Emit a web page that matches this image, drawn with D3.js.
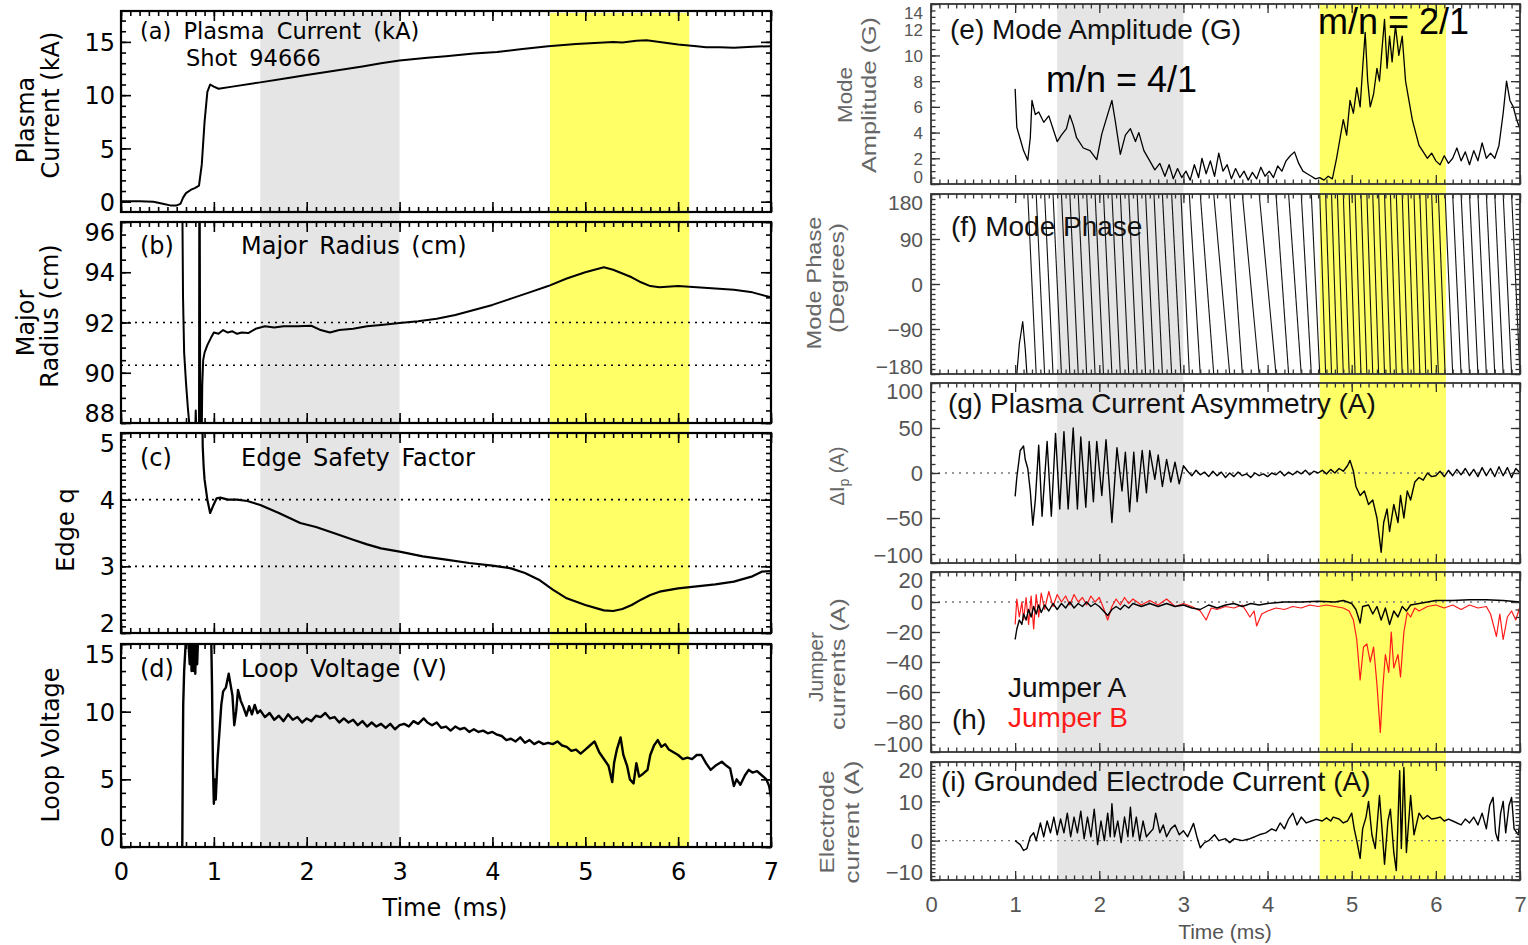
<!DOCTYPE html>
<html><head><meta charset="utf-8">
<script src="https://cdn.jsdelivr.net/npm/d3@7"></script>
<style>body{margin:0;background:#fff}</style></head>
<body><svg id="c" width="1528" height="945" xmlns="http://www.w3.org/2000/svg"></svg>
<script>
// ---------------- DATA (time in ms) ----------------
const timeTicks = [0,1,2,3,4,5,6,7];
const grayBand = [1.5, 3.0];
const yellowBand = [4.62, 6.12];

const plasmaCurrent = [[0,0.05],[0.2,0.05],[0.35,0.0],[0.45,-0.2],[0.53,-0.35],[0.6,-0.35],[0.64,-0.2],[0.67,0.4],[0.7,0.8],[0.75,1.1],[0.8,1.3],[0.84,1.5],[0.87,3.5],[0.9,7.5],[0.93,10.3],[0.96,11.0],[1.0,10.8],[1.05,10.6],[1.2,10.8],[1.5,11.2],[1.8,11.6],[2.0,11.9],[2.3,12.3],[2.6,12.7],[2.8,13.0],[3.0,13.25],[3.3,13.5],[3.5,13.65],[3.8,13.9],[4.05,14.05],[4.3,14.3],[4.6,14.6],[4.9,14.8],[5.1,14.9],[5.3,15.0],[5.4,14.95],[5.55,15.1],[5.66,15.15],[5.8,15.0],[6.0,14.75],[6.2,14.6],[6.3,14.5],[6.45,14.5],[6.6,14.45],[6.8,14.55],[7.0,14.6]];

const majorRadius = [[0.66,97],[0.668,93],[0.68,90.8],[0.70,89.6],[0.72,88.6],[0.74,87.8],[0.8,87.8],[0.805,88.5],[0.81,87.8],[0.84,87.8],[0.843,97],[0.848,97],[0.852,90.5],[0.856,87.7],[0.87,87.7],[0.875,89.5],[0.885,90.5],[0.9,90.8],[0.93,91.1],[0.97,91.4],[1.0,91.6],[1.05,91.55],[1.1,91.7],[1.15,91.6],[1.2,91.65],[1.25,91.55],[1.3,91.6],[1.37,91.58],[1.45,91.75],[1.55,91.85],[1.65,91.8],[1.75,91.85],[1.9,91.85],[2.05,91.87],[2.15,91.7],[2.25,91.6],[2.35,91.7],[2.5,91.75],[2.65,91.85],[2.8,91.9],[3.0,91.98],[3.2,92.05],[3.4,92.15],[3.6,92.3],[3.8,92.5],[4.0,92.7],[4.2,92.95],[4.4,93.2],[4.6,93.45],[4.8,93.75],[5.0,94.0],[5.1,94.1],[5.2,94.2],[5.3,94.1],[5.4,93.95],[5.5,93.8],[5.6,93.6],[5.7,93.45],[5.8,93.4],[6.0,93.45],[6.2,93.4],[6.4,93.35],[6.6,93.3],[6.8,93.2],[7.0,93.0]];
const radiusRefs = [92, 90.3];

const edgeQ = [[0.875,5.5],[0.88,4.8],[0.89,4.5],[0.9,4.3],[0.93,4.0],[0.96,3.8],[0.99,3.9],[1.03,4.02],[1.07,4.03],[1.15,4.0],[1.25,4.0],[1.36,3.98],[1.5,3.92],[1.7,3.8],[1.93,3.65],[2.1,3.59],[2.29,3.5],[2.5,3.4],[2.65,3.33],[2.8,3.27],[3.0,3.22],[3.25,3.15],[3.5,3.1],[3.75,3.05],[4.0,3.01],[4.2,2.97],[4.35,2.9],[4.5,2.8],[4.65,2.65],[4.8,2.52],[5.0,2.42],[5.2,2.34],[5.3,2.33],[5.4,2.36],[5.5,2.42],[5.6,2.5],[5.7,2.57],[5.8,2.62],[6.0,2.67],[6.2,2.7],[6.4,2.73],[6.6,2.77],[6.8,2.85],[6.9,2.92],[7.0,2.93]];
const qRefs = [4, 3];

const loopVoltage = [[0.66,0],[0.665,6],[0.67,10.5],[0.68,13],[0.7,15.5],[0.72,16],[0.74,13.5],[0.75,16],[0.76,13],[0.77,16],[0.78,13],[0.79,16],[0.8,12.8],[0.81,16],[0.82,13.5],[0.83,15.5],[0.84,16],[0.97,16],[0.98,12],[0.99,6],[1.0,3.2],[1.01,5],[1.02,3.5],[1.04,6.5],[1.06,8.5],[1.08,10.5],[1.1,11.5],[1.13,11.8],[1.16,12.8],[1.18,12],[1.2,11.2],[1.22,9.0],[1.24,10],[1.26,11.6],[1.29,10.8],[1.32,10.3],[1.35,9.7],[1.38,10.4],[1.41,9.8],[1.44,10.5],[1.47,9.9],[1.5,10.1],[1.55,9.6],[1.6,9.9],[1.65,9.4],[1.7,9.7],[1.75,9.3],[1.8,9.8],[1.85,9.4],[1.9,9.6],[1.95,9.2],[2.0,9.5],[2.05,9.3],[2.1,9.7],[2.15,9.6],[2.2,9.9],[2.25,9.5],[2.3,9.6],[2.35,9.2],[2.4,9.5],[2.45,9.2],[2.5,9.4],[2.55,9.0],[2.6,9.3],[2.65,8.9],[2.7,9.2],[2.75,8.9],[2.8,9.1],[2.85,8.8],[2.9,9.1],[2.95,8.7],[3.0,9.0],[3.05,9.1],[3.1,8.9],[3.15,9.3],[3.2,9.1],[3.26,9.5],[3.3,9.2],[3.35,9.0],[3.4,9.2],[3.45,8.8],[3.5,8.9],[3.55,8.6],[3.6,8.9],[3.65,8.7],[3.7,8.8],[3.75,8.5],[3.8,8.7],[3.85,8.5],[3.9,8.6],[3.95,8.4],[4.0,8.5],[4.05,8.3],[4.1,8.2],[4.15,7.9],[4.2,8.0],[4.25,7.8],[4.3,8.1],[4.35,7.7],[4.4,7.9],[4.45,7.6],[4.5,7.8],[4.55,7.6],[4.6,7.7],[4.65,7.6],[4.7,7.8],[4.75,7.5],[4.8,7.4],[4.85,7.1],[4.9,7.2],[4.95,6.9],[5.0,7.2],[5.05,7.5],[5.1,7.8],[5.15,7.0],[5.2,6.5],[5.25,6.0],[5.29,4.8],[5.31,6.2],[5.34,7.2],[5.38,8.1],[5.41,6.8],[5.45,6.0],[5.48,5.0],[5.52,4.7],[5.55,6.2],[5.58,5.2],[5.62,5.4],[5.67,5.7],[5.7,6.8],[5.74,7.5],[5.78,7.9],[5.82,7.4],[5.86,7.6],[5.9,7.2],[5.95,7.0],[6.0,6.8],[6.05,6.5],[6.1,6.6],[6.15,6.5],[6.2,6.8],[6.25,6.8],[6.3,6.2],[6.35,5.7],[6.4,6.0],[6.47,6.3],[6.52,6.0],[6.56,5.8],[6.6,4.5],[6.63,5.0],[6.67,4.6],[6.72,5.3],[6.76,5.7],[6.8,5.5],[6.85,5.6],[6.9,5.3],[6.95,5.0],[6.98,4.5],[7.0,3.7]];

const modeAmp = [[1.0,7.4],[1.02,4.4],[1.06,3.5],[1.10,2.6],[1.15,1.85],[1.18,3.6],[1.2,6.5],[1.24,5.4],[1.28,5.6],[1.34,4.8],[1.40,5.3],[1.46,4.1],[1.5,3.3],[1.55,3.8],[1.61,4.3],[1.65,5.35],[1.69,4.6],[1.73,3.6],[1.81,2.8],[1.89,2.6],[1.97,1.9],[2.03,3.9],[2.09,5.2],[2.15,6.5],[2.19,4.9],[2.25,2.3],[2.31,3.8],[2.37,4.3],[2.43,3.3],[2.47,4.0],[2.53,2.6],[2.6,1.8],[2.66,1.1],[2.72,1.6],[2.78,0.6],[2.83,1.5],[2.88,0.4],[2.93,1.2],[2.98,0.5],[3.03,1.0],[3.08,0.3],[3.13,1.5],[3.18,0.5],[3.22,2.0],[3.27,0.8],[3.32,1.8],[3.37,0.6],[3.42,2.4],[3.47,1.0],[3.52,1.5],[3.57,0.4],[3.62,1.2],[3.67,0.5],[3.72,1.0],[3.77,0.3],[3.82,0.9],[3.87,0.4],[3.92,1.3],[3.97,0.6],[4.02,1.0],[4.07,0.5],[4.12,1.4],[4.17,1.0],[4.22,1.8],[4.27,2.2],[4.32,2.5],[4.37,1.6],[4.42,1.0],[4.47,0.8],[4.52,0.6],[4.57,0.4],[4.62,0.5],[4.67,0.3],[4.72,0.6],[4.77,0.4],[4.82,2.0],[4.86,3.5],[4.9,5.0],[4.94,3.8],[4.98,6.5],[5.02,5.5],[5.06,7.5],[5.1,6.0],[5.13,9.0],[5.16,11.8],[5.19,8.0],[5.22,6.0],[5.26,7.0],[5.3,9.0],[5.33,8.0],[5.36,10.5],[5.39,12.8],[5.42,9.0],[5.45,11.5],[5.48,9.5],[5.52,12.3],[5.56,10.0],[5.6,11.5],[5.64,8.0],[5.68,6.5],[5.72,5.0],[5.76,4.0],[5.8,3.0],[5.85,2.5],[5.9,2.0],[5.95,2.4],[6.0,1.8],[6.05,1.5],[6.1,2.2],[6.15,1.6],[6.2,2.0],[6.25,2.8],[6.3,1.8],[6.35,2.5],[6.4,1.5],[6.45,2.6],[6.5,1.8],[6.55,3.2],[6.6,2.0],[6.65,2.4],[6.7,2.0],[6.75,3.0],[6.8,5.5],[6.84,8.0],[6.88,6.5],[6.92,6.0],[6.96,5.0],[7.0,4.3]];

// times at which the wrapped phase restarts at +180 deg
const phaseWraps = [1.15,1.25,1.35,1.45,1.55,1.65,1.75,1.85,1.95,2.05,2.15,2.25,2.35,2.45,2.55,2.65,2.75,2.86,2.97,3.07,3.2,3.36,3.55,3.7,3.9,4.1,4.25,4.4,4.52,4.62,4.69,4.76,4.83,4.9,4.97,5.04,5.11,5.18,5.25,5.32,5.39,5.46,5.53,5.6,5.67,5.74,5.81,5.88,5.95,6.03,6.11,6.2,6.3,6.4,6.5,6.6,6.7,6.8,6.9,7.0];
const phaseStart = [[1.02,-180],[1.05,-120],[1.09,-75],[1.12,-130],[1.14,-180]];

const asymmetry = [[1.0,-26],[1.02,-5],[1.06,25],[1.10,30],[1.12,15],[1.15,5],[1.18,-20],[1.21,-58],[1.24,-30],[1.28,31],[1.32,-48],[1.38,35],[1.43,-48],[1.48,44],[1.53,-40],[1.58,46],[1.63,-40],[1.69,50],[1.74,-40],[1.78,40],[1.84,-38],[1.88,35],[1.93,-32],[1.97,35],[2.03,-25],[2.08,37],[2.15,-55],[2.21,28],[2.27,-20],[2.31,23],[2.36,-43],[2.41,23],[2.45,-32],[2.51,25],[2.56,-22],[2.60,25],[2.66,-7],[2.7,20],[2.75,-15],[2.8,15],[2.85,-10],[2.9,12],[2.95,-12],[3.0,8],[3.05,2],[3.1,-3],[3.15,3],[3.2,-2],[3.25,1],[3.3,-4],[3.35,2],[3.4,-3],[3.45,1],[3.5,-5],[3.55,0],[3.6,-4],[3.65,1],[3.7,-3],[3.75,-1],[3.8,-5],[3.85,0],[3.9,-3],[3.95,-1],[4.0,-4],[4.05,0],[4.1,-2],[4.15,2],[4.2,-3],[4.25,1],[4.3,-2],[4.35,2],[4.4,-1],[4.45,3],[4.5,-2],[4.55,2],[4.6,0],[4.65,3],[4.7,-1],[4.75,4],[4.8,0],[4.85,5],[4.9,2],[4.95,8],[4.98,14],[5.02,2],[5.05,-15],[5.1,-25],[5.15,-20],[5.2,-35],[5.25,-30],[5.3,-50],[5.35,-88],[5.38,-55],[5.42,-40],[5.45,-65],[5.5,-35],[5.55,-55],[5.58,-25],[5.62,-50],[5.66,-20],[5.7,-30],[5.75,-10],[5.8,-5],[5.85,-8],[5.9,0],[5.95,-4],[6.0,-3],[6.05,2],[6.1,-4],[6.15,3],[6.2,-3],[6.25,4],[6.3,-2],[6.35,5],[6.4,-3],[6.45,4],[6.5,-4],[6.55,6],[6.6,-3],[6.65,5],[6.7,-4],[6.75,7],[6.8,-3],[6.85,6],[6.9,-5],[6.95,5],[7.0,0]];

const jumperA = [[1.0,-25],[1.02,-18],[1.05,-12],[1.08,-15],[1.1,-8],[1.13,-12],[1.16,-5],[1.19,-10],[1.22,-3],[1.25,-8],[1.28,-2],[1.31,-7],[1.35,-2],[1.4,-6],[1.45,-1],[1.5,-5],[1.55,-1],[1.6,-4],[1.65,0],[1.7,-4],[1.75,-1],[1.8,-3],[1.85,0],[1.9,-3],[1.95,-1],[2.0,-3],[2.05,-6],[2.1,-9],[2.15,-5],[2.2,-3],[2.25,-5],[2.3,-2],[2.35,-4],[2.4,-1],[2.5,-3],[2.6,-1],[2.7,-3],[2.8,-1],[2.9,-3],[3.0,-2],[3.1,-4],[3.2,-5],[3.3,-2],[3.4,-4],[3.5,-2],[3.6,-1],[3.7,-3],[3.8,-1],[3.9,-2],[4.0,-1],[4.2,0],[4.4,0],[4.6,0.5],[4.8,0],[4.9,1],[5.0,-1],[5.05,-5],[5.1,-14],[5.13,-3],[5.2,-2],[5.25,-8],[5.3,-3],[5.35,-12],[5.4,-4],[5.45,-15],[5.5,-6],[5.55,-10],[5.6,-3],[5.65,-6],[5.7,-2],[5.8,-1],[5.9,0],[6.0,1],[6.2,1],[6.4,1.5],[6.6,1.5],[6.8,1],[7.0,0]];
const jumperB = [[1.0,-15],[1.02,2],[1.05,-10],[1.08,0],[1.1,-12],[1.13,3],[1.16,-15],[1.19,4],[1.22,-18],[1.25,5],[1.28,-10],[1.31,6],[1.35,-5],[1.4,7],[1.45,-3],[1.5,5],[1.55,0],[1.6,4],[1.65,-2],[1.7,5],[1.75,0],[1.8,3],[1.85,-2],[1.9,4],[1.95,0],[2.0,3],[2.05,-4],[2.1,-12],[2.15,-3],[2.2,2],[2.25,-2],[2.3,3],[2.35,-1],[2.4,2],[2.5,-2],[2.6,1],[2.7,-2],[2.8,2],[2.9,-3],[3.0,-1],[3.1,-3],[3.2,-6],[3.27,-12],[3.33,-4],[3.4,-5],[3.5,-3],[3.6,-4],[3.7,-2],[3.79,-10],[3.84,-6],[3.87,-16],[3.93,-8],[4.0,-6],[4.1,-4],[4.2,-5],[4.3,-3],[4.4,-4],[4.5,-2],[4.6,-3],[4.7,-2],[4.8,-3],[4.9,-4],[4.97,-6],[5.02,-12],[5.06,-25],[5.1,-52],[5.14,-30],[5.18,-28],[5.22,-40],[5.26,-30],[5.3,-55],[5.34,-87],[5.37,-57],[5.4,-35],[5.44,-47],[5.47,-20],[5.5,-44],[5.55,-35],[5.58,-50],[5.62,-20],[5.66,-7],[5.7,-10],[5.75,-4],[5.8,-6],[5.9,-3],[6.0,-2],[6.1,-4],[6.2,-2],[6.3,-5],[6.4,-2],[6.5,-4],[6.6,-3],[6.65,-8],[6.72,-23],[6.76,-8],[6.8,-25],[6.85,-10],[6.9,-6],[6.95,-12],[7.0,-3]];

const electrode = [[1.0,0],[1.06,-1],[1.1,-2.5],[1.14,-2],[1.18,1],[1.22,2],[1.25,0],[1.3,4.5],[1.34,1],[1.38,5],[1.42,2],[1.46,6],[1.5,1.5],[1.54,5.5],[1.58,2],[1.62,7],[1.66,1],[1.7,6],[1.74,2],[1.78,7.5],[1.82,0.5],[1.86,6],[1.9,1],[1.94,8],[1.98,-1],[2.02,5],[2.06,0],[2.1,7],[2.13,1],[2.15,9.4],[2.18,1],[2.22,5],[2.26,-0.5],[2.3,6],[2.34,1],[2.37,8.5],[2.4,1],[2.44,6],[2.48,0],[2.52,5],[2.56,1],[2.6,2],[2.64,3],[2.67,7],[2.72,2],[2.76,4],[2.8,1],[2.85,3],[2.9,4],[2.95,1.5],[3.0,2.5],[3.05,1],[3.12,4.4],[3.16,1],[3.2,-1.8],[3.25,-0.5],[3.3,0],[3.37,1.5],[3.42,0],[3.5,0.5],[3.55,-0.5],[3.6,0.5],[3.7,0],[3.79,0.5],[3.85,1],[3.9,1.5],[3.98,2],[4.05,3],[4.1,2.5],[4.15,4.5],[4.2,3],[4.25,5.5],[4.3,7],[4.35,4],[4.4,6],[4.46,4.5],[4.52,5],[4.58,5.4],[4.65,5],[4.7,5.8],[4.75,5],[4.78,6],[4.85,5.5],[4.9,4.5],[4.95,5],[5.0,7],[5.03,3],[5.06,0],[5.1,-4.5],[5.13,3],[5.17,6],[5.2,10],[5.24,1.5],[5.28,-2],[5.33,11.5],[5.36,3],[5.39,-6],[5.43,5],[5.46,8],[5.5,-3],[5.53,-7.6],[5.57,17.8],[5.59,-2],[5.62,18.6],[5.65,-3],[5.7,11.5],[5.74,1.5],[5.8,7],[5.85,5.5],[5.9,6.4],[5.95,5.5],[6.0,5.7],[6.05,6],[6.1,5],[6.15,5.5],[6.2,5],[6.3,4],[6.35,5.5],[6.4,4.5],[6.45,6],[6.5,4],[6.55,7],[6.6,3],[6.64,9],[6.68,11],[6.71,2],[6.74,0],[6.77,7],[6.8,10],[6.83,2],[6.87,9],[6.9,11],[6.93,3],[6.98,1.5],[7.0,5]];

// ---------------- DRAWING ----------------
const svg = d3.select('#c');
const FL = "'DejaVu Sans', sans-serif";
const FR = "'Liberation Sans', Arial, sans-serif";
const xL = d3.scaleLinear().domain([0,7]).range([121,771]);
const xR = d3.scaleLinear().domain([0,7]).range([931,1520]);

function bands(x, top, bottom){
  svg.append('rect').attr('x',x(grayBand[0])).attr('y',top).attr('width',x(grayBand[1])-x(grayBand[0])).attr('height',bottom-top).attr('fill','#e5e5e5');
  svg.append('rect').attr('x',x(yellowBand[0])).attr('y',top).attr('width',x(yellowBand[1])-x(yellowBand[0])).attr('height',bottom-top).attr('fill','#ffff66');
}
bands(xL, 13, 847);
bands(xR, 5, 880);

let clipId = 0;
function panel(p){
  const x = p.x;
  const y = d3.scaleLinear().domain(p.domain).range([p.bottom, p.top]);
  const [x0,x1] = x.range();
  const left = p.side==='L';
  const col = left ? '#000' : '#333';
  const g = svg.append('g');
  const cid = 'clip'+(clipId++);
  svg.append('clipPath').attr('id',cid).append('rect').attr('x',x0).attr('y',p.top).attr('width',x1-x0).attr('height',p.bottom-p.top);
  const pg = g.append('g').attr('clip-path',`url(#${cid})`);
  (p.refs||[]).forEach(v=>{
    pg.append('line').attr('x1',x0).attr('x2',x1).attr('y1',y(v)).attr('y2',y(v))
      .attr('stroke', left?'#000':'#777').attr('stroke-width',left?1.6:1.4).attr('stroke-dasharray','2,5');
  });
  const line = d3.line().x(d=>x(d[0])).y(d=>y(d[1]));
  (p.series||[]).forEach(s=>{
    pg.append('path').attr('d',line(s.data)).attr('fill','none').attr('stroke',s.color||'#000')
      .attr('stroke-width',s.w||1.5).attr('stroke-linejoin','round');
  });
  if(p.extra) p.extra(pg, x, y);
  const ML = left?10:9, mL = left?5:4.5;
  const minorY = d3.range(p.minor[0], p.minor[1]+1e-9, p.minor[2]);
  const minorX = d3.range(0, 7.0001, 0.1);
  const ax = (a)=> a.attr('color', col).call(s=>s.select('.domain').remove());
  ax(g.append('g').attr('transform',`translate(${x0},0)`).call(d3.axisLeft(y).tickValues(minorY).tickSize(-mL).tickFormat('')));
  const yl = g.append('g').attr('transform',`translate(${x0},0)`).call(d3.axisLeft(y).tickValues(p.major).tickSize(-ML).tickPadding(left?6:8).tickFormat(p.fmt||d3.format('d')));
  ax(yl);
  yl.selectAll('text').attr('font-family',left?FL:FR).attr('font-size',p.tickFont).attr('fill',left?'#000':'#555')
    .attr('dy','0.36em').attr('y', function(d){ const yy=y(d); const m=p.edge; let off=0; if(yy-p.top<m) off=m-(yy-p.top); if(p.bottom-yy<m) off=-(m-(p.bottom-yy)); return off; });
  ax(g.append('g').attr('transform',`translate(${x1},0)`).call(d3.axisLeft(y).tickValues(minorY).tickSize(mL).tickFormat('')));
  ax(g.append('g').attr('transform',`translate(${x1},0)`).call(d3.axisLeft(y).tickValues(p.major).tickSize(ML).tickFormat('')));
  ax(g.append('g').attr('transform',`translate(0,${p.top})`).call(d3.axisBottom(x).tickValues(minorX).tickSize(mL).tickFormat('')));
  ax(g.append('g').attr('transform',`translate(0,${p.top})`).call(d3.axisBottom(x).tickValues(timeTicks).tickSize(ML).tickFormat('')));
  ax(g.append('g').attr('transform',`translate(0,${p.bottom})`).call(d3.axisTop(x).tickValues(minorX).tickSize(mL).tickFormat('')));
  ax(g.append('g').attr('transform',`translate(0,${p.bottom})`).call(d3.axisTop(x).tickValues(timeTicks).tickSize(ML).tickFormat('')));
  g.selectAll('.tick line').attr('stroke-width', left?1.6:1.3);
  if(p.xlabels){
    const xa = g.append('g').attr('transform',`translate(0,${p.bottom})`).call(d3.axisBottom(x).tickValues(timeTicks).tickSize(0).tickPadding(p.xpad).tickFormat(d3.format('d')));
    xa.select('.domain').remove();
    xa.selectAll('text').attr('font-family',left?FL:FR).attr('font-size',p.xFont).attr('fill',left?'#000':'#555');
  }
  g.append('rect').attr('x',x0).attr('y',p.top).attr('width',x1-x0).attr('height',p.bottom-p.top)
    .attr('fill','none').attr('stroke',left?'#000':'#333').attr('stroke-width',left?2.2:1.8);
  return {x,y};
}
const neg = d=>d<0?'\u2212'+(-d):d;

panel({side:'L',x:xL,top:11,bottom:212,domain:[-0.97,17.9],major:[0,5,10,15],minor:[0,17,1],tickFont:24,edge:10,
  series:[{data:plasmaCurrent,w:2}]});
panel({side:'L',x:xL,top:222,bottom:423,domain:[88,96],major:[88,90,92,94,96],minor:[88,96,0.5],tickFont:24,edge:10,refs:radiusRefs,
  series:[{data:majorRadius,w:2}]});
panel({side:'L',x:xL,top:433,bottom:633,domain:[2,5],major:[2,3,4,5],minor:[2,5,0.1],tickFont:24,edge:10,refs:qRefs,
  series:[{data:edgeQ,w:2.2}]});
panel({side:'L',x:xL,top:644,bottom:847,domain:[0,15],major:[0,5,10,15],minor:[0,15,1],tickFont:24,edge:10,
  series:[{data:loopVoltage,w:2.4}], xlabels:true, xpad:16, xFont:24});

panel({side:'R',x:xR,top:4,bottom:184,domain:[0,14],major:[0,2,4,6,8,10,12,14],minor:[0,14,0.5],tickFont:17,edge:8,
  series:[{data:modeAmp,w:1.3}]});
panel({side:'R',x:xR,top:194,bottom:374,domain:[-180,180],major:[-180,-90,0,90,180],minor:[-180,180,10],tickFont:21,edge:8,
  fmt:neg, series:[{data:phaseStart,w:1.2}],
  extra:(pg,x,y)=>{
    pg.selectAll('line.ph').data(d3.pairs(phaseWraps)).join('line').attr('class','ph')
      .attr('x1',d=>x(d[0])).attr('y1',y(180)).attr('x2',d=>x(d[1])).attr('y2',y(-180))
      .attr('stroke','#111').attr('stroke-width',1.1);
  }});
panel({side:'R',x:xR,top:383,bottom:563,domain:[-100,100],major:[-100,-50,0,50,100],minor:[-100,100,10],tickFont:22,edge:8,refs:[0],
  fmt:neg, series:[{data:asymmetry,w:1.4}]});
panel({side:'R',x:xR,top:572,bottom:752,domain:[-100,20],major:[-100,-80,-60,-40,-20,0,20],minor:[-100,20,5],tickFont:22,edge:8,refs:[0],
  fmt:neg, series:[{data:jumperB,color:'#ff1a1a',w:1.2},{data:jumperA,w:1.4}]});
panel({side:'R',x:xR,top:762,bottom:880,domain:[-10,20],major:[-10,0,10,20],minor:[-10,20,1],tickFont:22,edge:8,refs:[0],
  fmt:neg, series:[{data:electrode,w:1.4}], xlabels:true, xpad:16, xFont:22});

// ---------------- TEXT ----------------
function txt(s, x, y, o){
  o=o||{};
  const t = svg.append('text').attr('x',x).attr('y',y).text(s)
    .attr('font-family',o.f||FL).attr('font-size',o.size||24).attr('fill',o.c||'#000')
    .attr('text-anchor',o.a||'start');
  if(o.ws) t.attr('word-spacing',o.ws);
  if(o.len) t.attr('textLength',o.len).attr('lengthAdjust','spacingAndGlyphs');
  if(o.rot) t.attr('transform',`rotate(-90,${x},${y})`).attr('dy','0.35em');
  return t;
}
txt('(a) Plasma Current (kA)',140,39,{ws:5,size:22.5});
txt('Shot 94666',186,66,{ws:5,size:22.5});
txt('(b)',140,254); txt('Major Radius (cm)',241,254,{ws:4});
txt('(c)',140,466); txt('Edge Safety Factor',241,466,{ws:4});
txt('(d)',140,677); txt('Loop Voltage (V)',241,677,{ws:4});
txt('Plasma',26,120,{rot:1,a:'middle'});
txt('Current (kA)',51,105,{rot:1,a:'middle'});
txt('Major',26,323,{rot:1,a:'middle'});
txt('Radius (cm)',50,316,{rot:1,a:'middle'});
txt('Edge q',66,530,{rot:1,a:'middle'});
txt('Loop Voltage',51,745,{rot:1,a:'middle'});
txt('Time (ms)',445,916,{a:'middle',ws:4});

const RT = {f:FR,size:28,c:'#111'};
txt('(e) Mode Amplitude (G)',950,39,RT);
txt('(f) Mode Phase',951,236,RT);
txt('(g) Plasma Current Asymmetry (A)',948,413,RT);
txt('(i) Grounded Electrode Current (A)',941,791,RT);
txt('(h)',952,729,RT);
txt('Jumper A',1008,697,RT);
txt('Jumper B',1008,727,{f:FR,size:28,c:'#ff1a1a'});
txt('m/n = 4/1',1046,92,{f:FR,size:36});
txt('m/n = 2/1',1318,34,{f:FR,size:36});
const RY = (len)=>({f:FR,size:20,c:'#666',rot:1,a:'middle',len});
txt('Mode',845,95,RY(56));
txt('Amplitude (G)',869,95,RY(156));
txt('Mode Phase',814,283,RY(133));
txt('(Degrees)',837,278,RY(110));
const dl = svg.append('text').attr('transform','rotate(-90,837,476)').attr('x',837).attr('y',476).attr('dy','0.35em')
  .attr('font-family',FR).attr('font-size',20).attr('fill','#666').attr('text-anchor','middle');
dl.append('tspan').text('\u0394I');
dl.append('tspan').text('p').attr('font-size',14).attr('dy','5');
dl.append('tspan').text(' (A)').attr('dy','-5');
txt('Jumper',816,667,RY(70));
txt('currents (A)',838,664,RY(132));
txt('Electrode',827,822,RY(103));
txt('current (A)',852,822,RY(123));
txt('Time (ms)',1225,939,{f:FR,size:21,c:'#555',a:'middle'});
</script></body></html>
